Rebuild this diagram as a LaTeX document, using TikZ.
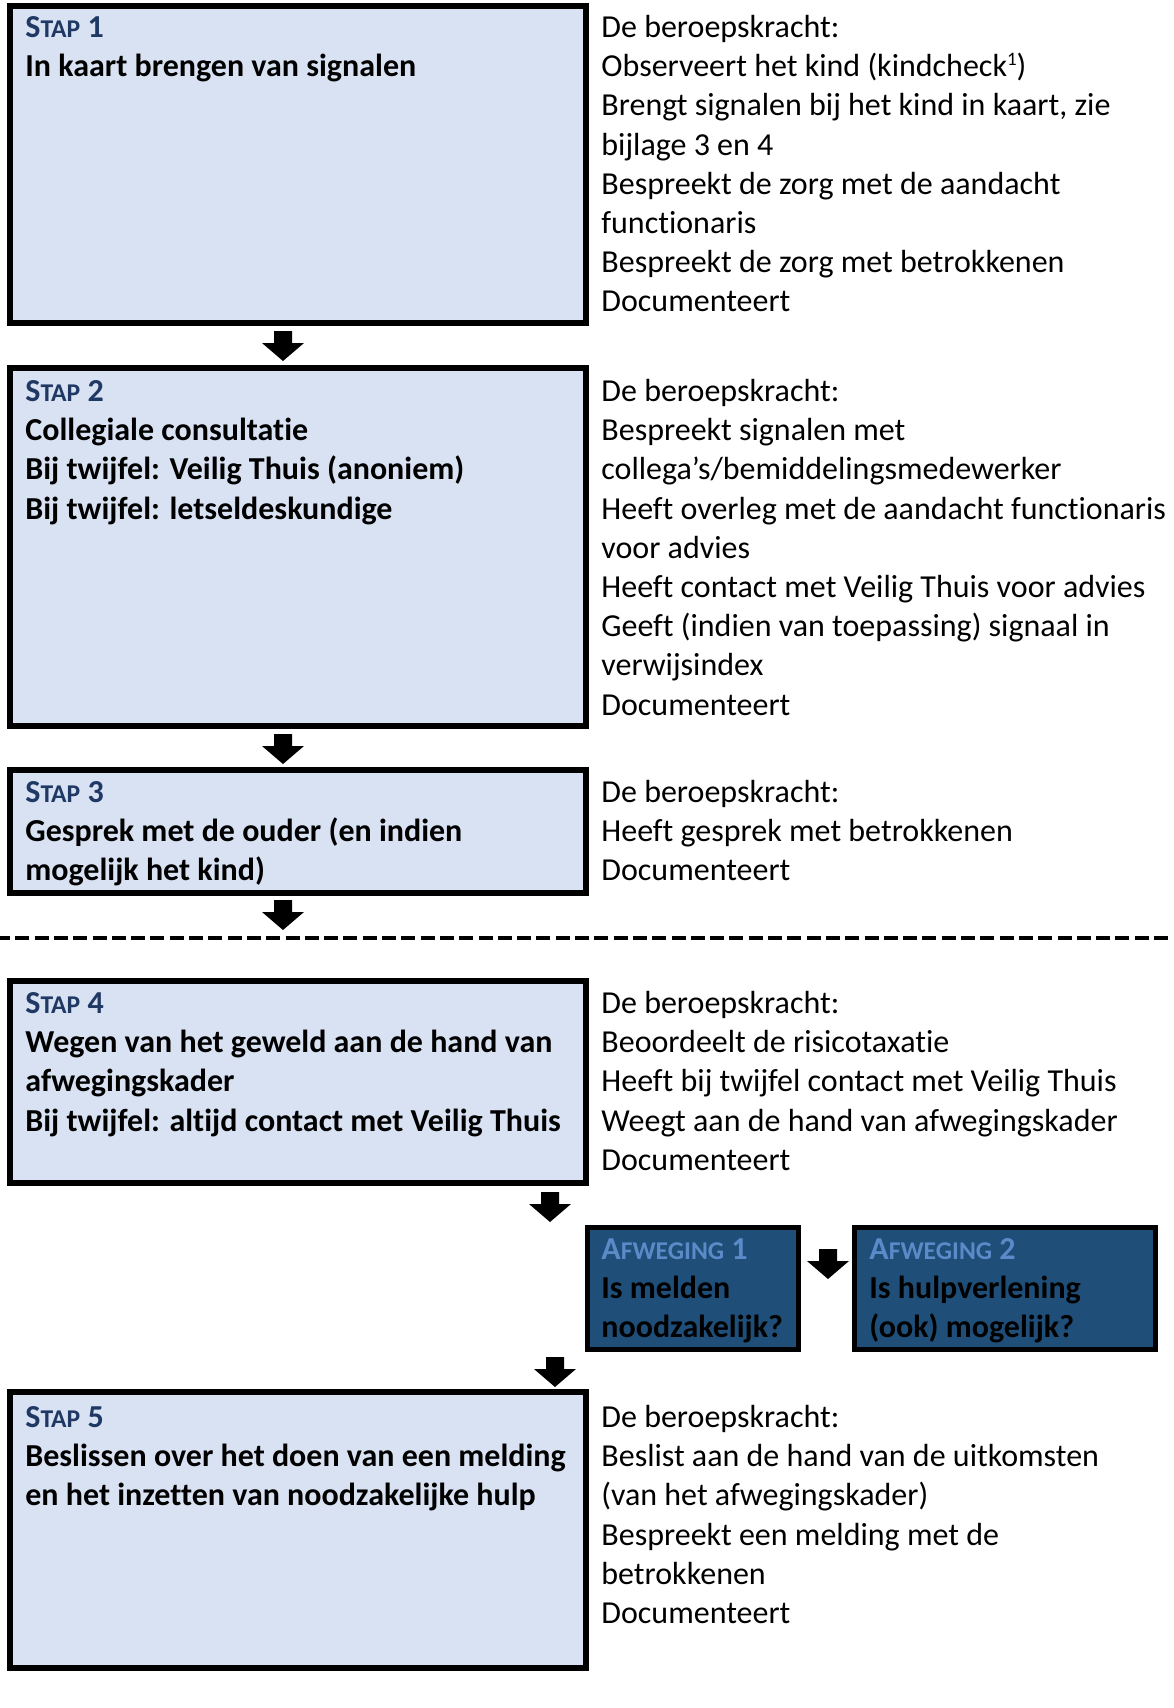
\documentclass[tikz,border=0pt]{standalone}
\usepackage{fontspec}
\setmainfont{Carlito}[Ligatures=NoCommon]
\usepackage{tikz}

\definecolor{stapvul}{HTML}{D9E2F3}
\definecolor{stapkop}{HTML}{1F3864}
\definecolor{afwvul}{HTML}{1F4E79}
\definecolor{afwkop}{HTML}{5A8AC8}

\newcommand\kleinkap[2]{#1{\fontsize{12.8}{12}\selectfont #2}}
\newcommand\voetnoot[1]{\raisebox{5.5pt}{\fontsize{9.5}{10}\selectfont #1}}

\tikzset{
  stapbox/.style={draw=black, line width=2.75pt, fill=stapvul},
  afwbox/.style={draw=black, line width=2.5pt, fill=afwvul},
  tekst/.style={anchor=north west, yshift=13.72pt, inner sep=0pt, align=left,
    font=\fontsize{16}{19.6}\selectfont},
  vet/.style={tekst, font=\fontsize{16}{19.6}\selectfont\bfseries},
  pijl/.pic={\fill (-9,0) -- (9,0) -- (9,12) -- (21,12) -- (0,30) -- (-21,12) -- (-9,12) -- cycle;}
}

\begin{document}
\begin{tikzpicture}[x=0.5pt,y=-0.5pt]
    \useasboundingbox (0,0) rectangle (1173,1708);

    % stap 1
    \draw [stapbox] (10,6) rectangle (586,323);
    \node [vet] (stap1) at (25,37) {\strut\textcolor{stapkop}{\kleinkap{S}{TAP} 1}\\
        In kaart brengen van signalen};
    \node [tekst] (taak1) at (601,37) {\strut De beroepskracht:\\
        Observeert het kind (kindcheck\voetnoot{1})\\
        Brengt signalen bij het kind in kaart, zie\\
        bijlage 3 en 4\\
        Bespreekt de zorg met de aandacht\\
        functionaris\\
        Bespreekt de zorg met betrokkenen\\
        Documenteert};
    \pic at (283,331) {pijl};

    % stap 2
    \draw [stapbox] (10,368) rectangle (586,726);
    \node [vet] (stap2) at (25,401) {\strut\textcolor{stapkop}{\kleinkap{S}{TAP} 2}\\
        Collegiale consultatie\\
        Bij twijfel: Veilig Thuis (anoniem)\\
        Bij twijfel: letseldeskundige};
    \node [tekst] (taak2) at (601,401) {\strut De beroepskracht:\\
        Bespreekt signalen met\\
        collega’s/bemiddelingsmedewerker\\
        Heeft overleg met de aandacht functionaris\\
        voor advies\\
        Heeft contact met Veilig Thuis voor advies\\
        Geeft (indien van toepassing) signaal in\\
        verwijsindex\\
        Documenteert};
    \pic at (283,734) {pijl};

    % stap 3
    \draw [stapbox] (10,770) rectangle (586,893);
    \node [vet] (stap3) at (25,802) {\strut\textcolor{stapkop}{\kleinkap{S}{TAP} 3}\\
        Gesprek met de ouder (en indien\\
        mogelijk het kind)};
    \node [tekst] (taak3) at (601,802) {\strut De beroepskracht:\\
        Heeft gesprek met betrokkenen\\
        Documenteert};
    \pic at (283,900) {pijl};

    \draw [line width=2pt, dash pattern=on 7pt off 2.65pt] (-4,938) -- (1173,938);

    % stap 4
    \draw [stapbox] (10,981) rectangle (586,1183);
    \node [vet] (stap4) at (25,1013) {\strut\textcolor{stapkop}{\kleinkap{S}{TAP} 4}\\
        Wegen van het geweld aan de hand van\\
        afwegingskader\\
        Bij twijfel: altijd contact met Veilig Thuis};
    \node [tekst] (taak4) at (601,1013) {\strut De beroepskracht:\\
        Beoordeelt de risicotaxatie\\
        Heeft bij twijfel contact met Veilig Thuis\\
        Weegt aan de hand van afwegingskader\\
        Documenteert};
    \pic at (550,1192) {pijl};

    % afwegingen
    \draw [afwbox] (587,1227) rectangle (798,1349);
    \node [vet] (afw1) at (601,1259) {\strut\textcolor{afwkop}{\kleinkap{A}{FWEGING} 1}\\
        Is melden\\
        noodzakelijk?};
    \pic at (828,1249) {pijl};
    \draw [afwbox] (854,1227) rectangle (1155,1349);
    \node [vet] (afw2) at (869,1259) {\strut\textcolor{afwkop}{\kleinkap{A}{FWEGING} 2}\\
        Is hulpverlening\\
        (ook) mogelijk?};
    \pic at (555,1357) {pijl};

    % stap 5
    \draw [stapbox] (10,1392) rectangle (586,1668);
    \node [vet] (stap5) at (25,1427) {\strut\textcolor{stapkop}{\kleinkap{S}{TAP} 5}\\
        Beslissen over het doen van een melding\\
        en het inzetten van noodzakelijke hulp};
    \node [tekst] (taak5) at (601,1427) {\strut De beroepskracht:\\
        Beslist aan de hand van de uitkomsten\\
        (van het afwegingskader)\\
        Bespreekt een melding met de\\
        betrokkenen\\
        Documenteert};
\end{tikzpicture}
\end{document}
